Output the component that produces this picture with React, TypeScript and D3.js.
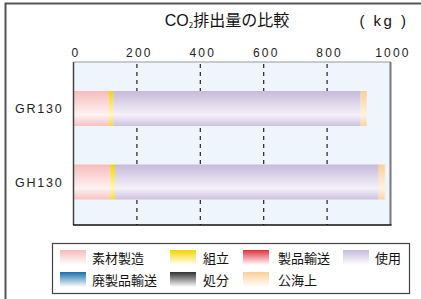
import React, { useEffect, useRef } from 'react';
import * as d3 from 'd3';

// chart values
const categories = ['GR130', 'GH130'];
const seriesNames = ['素材製造', '組立', '製品輸送', '使用', '廃製品輸送', '処分', '公海上'];
const materials = [112, 116];
const assembly = [13, 15];
const productTransport = [0, 0];
const usage = [781, 832];
const wasteTransport = [0, 0];
const disposal = [0, 0];
const seaTransport = [19, 19];
const xTicks = [0, 200, 400, 600, 800, 1000];

// legend order (two rows of four/three)
const legendOrder = ['素材製造', '組立', '製品輸送', '使用', '廃製品輸送', '処分', '公海上'];

// [top, light, bottom] colours for the bar gradients
const barColors: Record<string, string[]> = {
  素材製造: ['#f7bcbc', '#fff2f2', '#f7c2c2'],
  組立: ['#f5d600', '#fff6c0', '#f8da30'],
  製品輸送: ['#e4303c', '#fde0e0', '#e84a55'],
  使用: ['#c6bada', '#f5f1f9', '#cdc2df'],
  廃製品輸送: ['#1a6fae', '#e4eef8', '#2c7cba'],
  処分: ['#303030', '#f0f0f0', '#444444'],
  公海上: ['#fbcf96', '#fff2de', '#fbd4a0'],
};

const FONT = '"Liberation Sans", Arial, sans-serif';
const JFONT = '"Noto Sans CJK JP", "Liberation Sans", sans-serif';

function App() {
  const ref = useRef<SVGSVGElement>(null);

  useEffect(() => {
    const svg = d3.select(ref.current);
    svg.selectAll('*').remove();

    const rows = categories.map((c, i) => ({
      name: c,
      素材製造: materials[i],
      組立: assembly[i],
      製品輸送: productTransport[i],
      使用: usage[i],
      廃製品輸送: wasteTransport[i],
      処分: disposal[i],
      公海上: seaTransport[i],
    }));

    const plot = { left: 73.5, right: 390.5, top: 62, bottom: 225 };

    const defs = svg.append('defs');
    Object.entries(barColors).forEach(([k, c], i) => {
      const g = defs
        .append('linearGradient')
        .attr('id', 'bar' + i)
        .attr('x1', 0)
        .attr('x2', 0)
        .attr('y1', 0)
        .attr('y2', 1);
      g.append('stop').attr('offset', '0%').attr('stop-color', c[0]);
      g.append('stop').attr('offset', '68%').attr('stop-color', c[1]);
      g.append('stop').attr('offset', '100%').attr('stop-color', c[2]);
      const l = defs
        .append('linearGradient')
        .attr('id', 'leg' + i)
        .attr('x1', 0)
        .attr('x2', 0)
        .attr('y1', 0)
        .attr('y2', 1);
      l.append('stop').attr('offset', '0%').attr('stop-color', c[0]);
      l.append('stop').attr('offset', '100%').attr('stop-color', '#ffffff');
    });
    const keyIdx = (k: string) => Object.keys(barColors).indexOf(k);

    // outer frame (cut off at right and bottom)
    svg.append('rect')
      .attr('x', 5.5).attr('y', 3.5)
      .attr('width', 440).attr('height', 320)
      .attr('fill', 'none')
      .attr('stroke', '#555')
      .attr('stroke-width', 2);

    // title
    const title = svg.append('text')
      .attr('x', 227).attr('y', 26)
      .attr('text-anchor', 'middle')
      .attr('font-family', JFONT)
      .style('font-size', '16px')
      .attr('fill', '#111');
    title.append('tspan').attr('font-family', FONT).text('CO');
    title.append('tspan').style('font-size', '8px').attr('dy', 2).text('2');
    title.append('tspan').attr('dy', -2).text('排出量の比較');

    svg.append('text')
      .attr('x', 384).attr('y', 26)
      .attr('text-anchor', 'middle')
      .attr('font-family', FONT)
      .style('font-size', '15px')
      .attr('fill', '#111')
      .text('( kg )')
      .style('letter-spacing', '2.5px')
      .style('white-space', 'pre');

    const x = d3.scaleLinear().domain([0, 1000]).range([plot.left, plot.right]);
    const y = d3.scalePoint().domain(categories).range([108.5, 182]);
    const barH = 35;

    // plot background
    svg.append('rect')
      .attr('x', plot.left).attr('y', plot.top)
      .attr('width', plot.right - plot.left)
      .attr('height', plot.bottom - plot.top)
      .attr('fill', '#eef5fc');

    // dashed gridlines
    svg.append('g')
      .selectAll('line')
      .data(xTicks.filter(t => t > 0 && t < 1000))
      .enter()
      .append('line')
      .attr('x1', d => x(d)).attr('x2', d => x(d))
      .attr('y1', plot.top + 2).attr('y2', plot.bottom)
      .attr('stroke', '#222')
      .attr('stroke-width', 1.2)
      .attr('stroke-dasharray', '4,4');

    // stacked bars
    const stack = d3.stack<any>().keys(seriesNames)(rows);
    svg.append('g')
      .selectAll('g')
      .data(stack)
      .enter()
      .append('g')
      .attr('fill', d => `url(#bar${keyIdx(d.key)})`)
      .selectAll('rect')
      .data(d => d)
      .enter()
      .append('rect')
      .attr('x', d => x(d[0]))
      .attr('width', d => x(d[1]) - x(d[0]))
      .attr('y', d => (y(d.data.name) as number) - barH / 2)
      .attr('height', barH);

    // plot border
    svg.append('line')
      .attr('x1', plot.left).attr('x2', plot.right)
      .attr('y1', plot.top).attr('y2', plot.top)
      .attr('stroke', '#999').attr('stroke-width', 1);
    svg.append('line')
      .attr('x1', plot.left).attr('x2', plot.left)
      .attr('y1', plot.top).attr('y2', plot.bottom)
      .attr('stroke', '#444').attr('stroke-width', 1.5);
    svg.append('line')
      .attr('x1', plot.right).attr('x2', plot.right)
      .attr('y1', plot.top).attr('y2', plot.bottom)
      .attr('stroke', '#777').attr('stroke-width', 2);
    svg.append('line')
      .attr('x1', plot.left - 0.5).attr('x2', plot.right + 1)
      .attr('y1', plot.bottom).attr('y2', plot.bottom)
      .attr('stroke', '#111').attr('stroke-width', 1.5);

    // x tick labels on top
    const axis = svg.append('g')
      .attr('transform', `translate(2,${plot.top - 5})`)
      .call(d3.axisTop(x).tickValues(xTicks).tickSize(0).tickPadding(0).tickFormat(d3.format('d')));
    axis.select('.domain').remove();
    axis.selectAll('text')
      .attr('font-family', FONT)
      .style('font-size', '12px')
      .style('letter-spacing', '2.2px')
      .attr('fill', '#222');

    // category labels
    const yAxis = svg.append('g')
      .attr('transform', `translate(${plot.left - 10},0)`)
      .call(d3.axisLeft(y).tickSize(0).tickPadding(0));
    yAxis.select('.domain').remove();
    yAxis.selectAll('text')
      .attr('font-family', FONT)
      .style('font-size', '12.5px')
      .style('letter-spacing', '1.8px')
      .attr('fill', '#222');

    // legend
    const leg = { x: 52.5, y: 243.5, w: 357, h: 50 };
    svg.append('rect')
      .attr('x', leg.x).attr('y', leg.y)
      .attr('width', leg.w).attr('height', leg.h)
      .attr('fill', '#fff')
      .attr('stroke', '#444')
      .attr('stroke-width', 1.2);
    const colX = [60, 170, 243, 343];
    const textX = [92, 203, 278, 375];
    const rowY = [250, 272];
    const items = svg.append('g')
      .selectAll('g')
      .data(legendOrder)
      .enter()
      .append('g');
    items.append('rect')
      .attr('x', (d, i) => colX[i % 4])
      .attr('y', (d, i) => rowY[Math.floor(i / 4)])
      .attr('width', 26)
      .attr('height', 15)
      .attr('fill', d => `url(#leg${keyIdx(d)})`);
    items.append('text')
      .attr('x', (d, i) => textX[i % 4])
      .attr('y', (d, i) => rowY[Math.floor(i / 4)] + 12.5)
      .attr('font-family', JFONT)
      .style('font-size', '13px')
      .attr('fill', '#111')
      .text(d => d);
  }, []);

  return (
    <svg
      ref={ref}
      width={421}
      height={299}
      style={{ position: 'absolute', left: 0, top: 0, background: '#fff' }}
    />
  );
}

export default App;
